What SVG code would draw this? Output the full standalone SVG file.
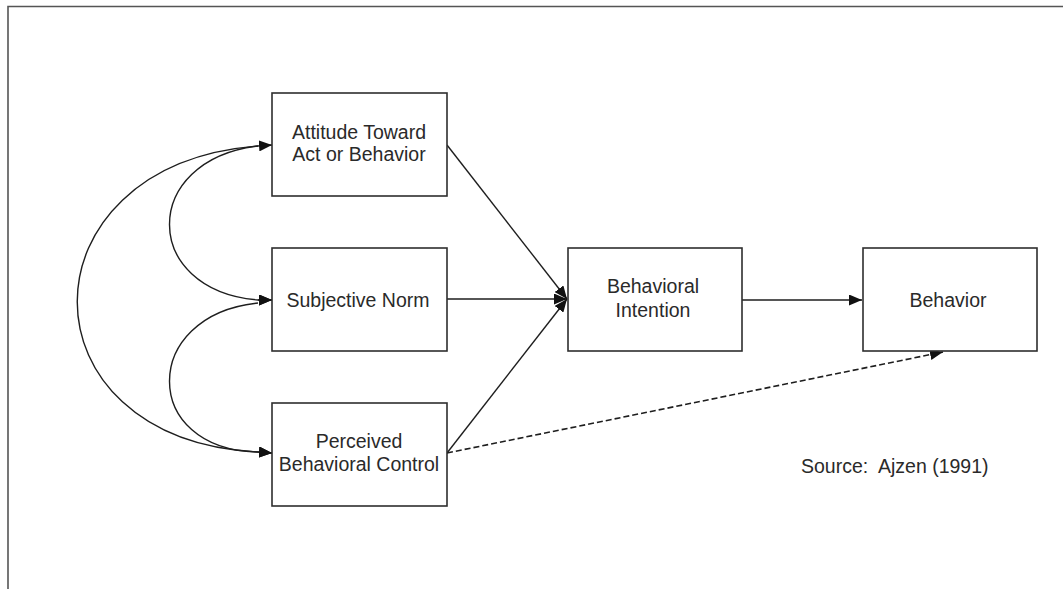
<svg xmlns="http://www.w3.org/2000/svg" width="1063" height="589" viewBox="0 0 1063 589">
  <style>
    .box { fill: #ffffff; stroke: #2e2e2e; stroke-width: 1.6; }
    .label { font-family: "Liberation Sans", Arial, sans-serif; font-size: 19.5px; fill: #2a2a2a; text-anchor: middle; }
    .note { font-family: "Liberation Sans", Arial, sans-serif; font-size: 19.5px; fill: #2a2a2a; }
    .edge { fill: none; stroke: #1e1e1e; stroke-width: 1.4; marker-end: url(#arrow); }
    .dashed { stroke-dasharray: 6 3; stroke-width: 1.6; }
    .frame { fill: none; stroke: #555555; stroke-width: 1.6; }
  </style>
  <defs>
    <marker id="arrow" viewBox="0 0 13 11" refX="13" refY="5.5" markerWidth="13" markerHeight="11" markerUnits="userSpaceOnUse" orient="auto">
      <path d="M0,0 L13,5.5 L0,11 Z" fill="#111111"/>
    </marker>
  </defs>

  <rect width="1063" height="589" fill="#ffffff"/>
  <!-- page frame: only the top and left rules fall inside the view -->
  <path class="frame" d="M8,589 V6.5 H1063"/>

  <g id="connectors">
    <!-- correlations between the three antecedents -->
    <path class="edge" d="M258,146 C140,160 140,290 258,300 L272,300"/>
    <path class="edge" d="M258,303 C140,315 140,450 258,452 L272,453"/>
    <path class="edge" d="M258,146 C17,165 17,440 258,452 L272,453"/>
    <path class="edge" d="M258,300 L272,300"/>
    <path class="edge" d="M258,146 L272,145"/>
    <!-- paths into behavioral intention -->
    <path class="edge" d="M447,145 L567,299"/>
    <path class="edge" d="M447,299 L567,299"/>
    <path class="edge" d="M447,453 L567,299"/>
    <!-- intention to behavior -->
    <path class="edge" d="M742,300 L862,300"/>
    <!-- direct path from perceived control to behavior -->
    <path class="edge dashed" d="M447,453 L943,352"/>
  </g>

  <g id="attitude">
    <rect class="box" x="272" y="93" width="175" height="103"/>
    <text class="label" x="359" y="138.5">Attitude Toward</text>
    <text class="label" x="359" y="160.5">Act or Behavior</text>
  </g>

  <g id="subjective-norm">
    <rect class="box" x="272" y="248" width="175" height="103"/>
    <text class="label" x="358" y="306.5">Subjective Norm</text>
  </g>

  <g id="perceived-control">
    <rect class="box" x="272" y="403" width="175" height="103"/>
    <text class="label" x="359" y="447.5">Perceived</text>
    <text class="label" x="359" y="470.5">Behavioral Control</text>
  </g>

  <g id="intention">
    <rect class="box" x="568" y="248" width="174" height="103"/>
    <text class="label" x="653" y="293">Behavioral</text>
    <text class="label" x="653" y="317">Intention</text>
  </g>

  <g id="behavior">
    <rect class="box" x="863" y="248" width="174" height="103"/>
    <text class="label" x="948" y="306.5">Behavior</text>
  </g>

  <text class="note" x="801" y="473" xml:space="preserve">Source:  Ajzen (1991)</text>
</svg>
